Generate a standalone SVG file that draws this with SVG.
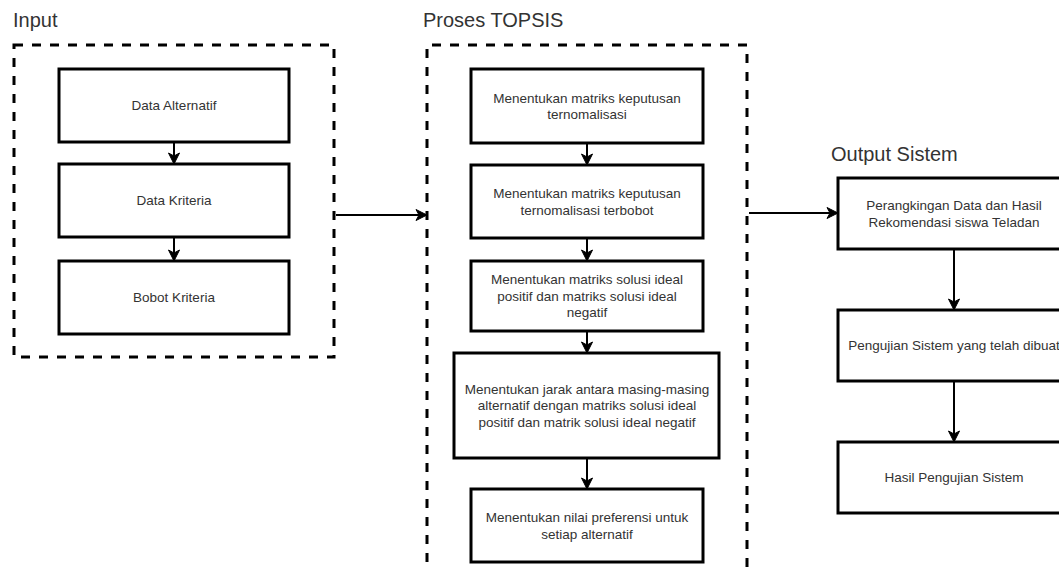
<svg xmlns="http://www.w3.org/2000/svg" width="1059" height="569" viewBox="0 0 1059 569">
<style>
.box{fill:#fff;stroke:#000;stroke-width:3}
.dash{fill:none;stroke:#000;stroke-width:3;stroke-dasharray:9 9}
.t{font-family:"Liberation Sans",Arial,sans-serif;font-size:13.5px;fill:#333;text-anchor:middle}
.title{font-family:"Liberation Sans",Arial,sans-serif;font-size:20px;fill:#333}
.c{fill:none;stroke:#000;stroke-width:2;marker-end:url(#ah)}
</style>
<defs>
<marker id="ah" markerUnits="userSpaceOnUse" markerWidth="13" markerHeight="13" refX="12" refY="6.5" orient="auto">
<path d="M1,1 L12,6.5 L1,12 L4,6.5 z" fill="#000" stroke="#000" stroke-width="1"/>
</marker>
</defs>
<rect width="1059" height="569" fill="#fff"/>
<g id="groups">
<rect class="dash" x="14" y="45" width="320" height="312"/>
<path class="dash" d="M427,580 L427,45 L747,45 L747,580"/>
<text class="title" x="13" y="27">Input</text>
<text class="title" x="423" y="27">Proses TOPSIS</text>
<text class="title" x="831" y="161">Output Sistem</text>
</g>
<g id="connectors">
<line class="c" x1="174" y1="142" x2="174" y2="164"/>
<line class="c" x1="174" y1="237" x2="174" y2="261"/>
<line class="c" x1="336" y1="215" x2="427" y2="215"/>
<line class="c" x1="587" y1="143" x2="587" y2="165"/>
<line class="c" x1="587" y1="238" x2="587" y2="261"/>
<line class="c" x1="587" y1="331" x2="587" y2="353"/>
<line class="c" x1="587" y1="458" x2="587" y2="489"/>
<line class="c" x1="749" y1="213" x2="838" y2="213"/>
<line class="c" x1="954" y1="249" x2="954" y2="310"/>
<line class="c" x1="954" y1="381" x2="954" y2="442"/>
</g>
<g id="n1"><rect class="box" x="59" y="69" width="230" height="73"/><text class="t" x="174" y="110">Data Alternatif</text></g>
<g id="n2"><rect class="box" x="59" y="164" width="230" height="73"/><text class="t" x="174" y="205">Data Kriteria</text></g>
<g id="n3"><rect class="box" x="59" y="261" width="230" height="73"/><text class="t" x="174" y="302">Bobot Kriteria</text></g>
<g id="p1"><rect class="box" x="471" y="69" width="232" height="74"/><text class="t" x="587" y="102.5">Menentukan matriks keputusan</text><text class="t" x="587" y="119">ternomalisasi</text></g>
<g id="p2"><rect class="box" x="471" y="165" width="232" height="73"/><text class="t" x="587" y="198">Menentukan matriks keputusan</text><text class="t" x="587" y="214.5">ternomalisasi terbobot</text></g>
<g id="p3"><rect class="box" x="471" y="261" width="232" height="70"/><text class="t" x="587" y="284.2">Menentukan matriks solusi ideal</text><text class="t" x="587" y="300.7">positif dan matriks solusi ideal</text><text class="t" x="587" y="317.2">negatif</text></g>
<g id="p4"><rect class="box" x="454" y="353" width="265" height="105"/><text class="t" x="587" y="393.7">Menentukan jarak antara masing-masing</text><text class="t" x="587" y="410.2">alternatif dengan matriks solusi ideal</text><text class="t" x="587" y="426.7">positif dan matrik solusi ideal negatif</text></g>
<g id="p5"><rect class="box" x="471" y="489" width="232" height="73"/><text class="t" x="587" y="522">Menentukan nilai preferensi untuk</text><text class="t" x="587" y="538.5">setiap alternatif</text></g>
<g id="o1"><rect class="box" x="838" y="178" width="232" height="71"/><text class="t" x="954" y="210">Perangkingan Data dan Hasil</text><text class="t" x="954" y="226.5">Rekomendasi siswa Teladan</text></g>
<g id="o2"><rect class="box" x="838" y="310" width="232" height="71"/><text class="t" x="954" y="350.2">Pengujian Sistem yang telah dibuat</text></g>
<g id="o3"><rect class="box" x="838" y="442" width="232" height="71"/><text class="t" x="954" y="482.2">Hasil Pengujian Sistem</text></g>
</svg>
